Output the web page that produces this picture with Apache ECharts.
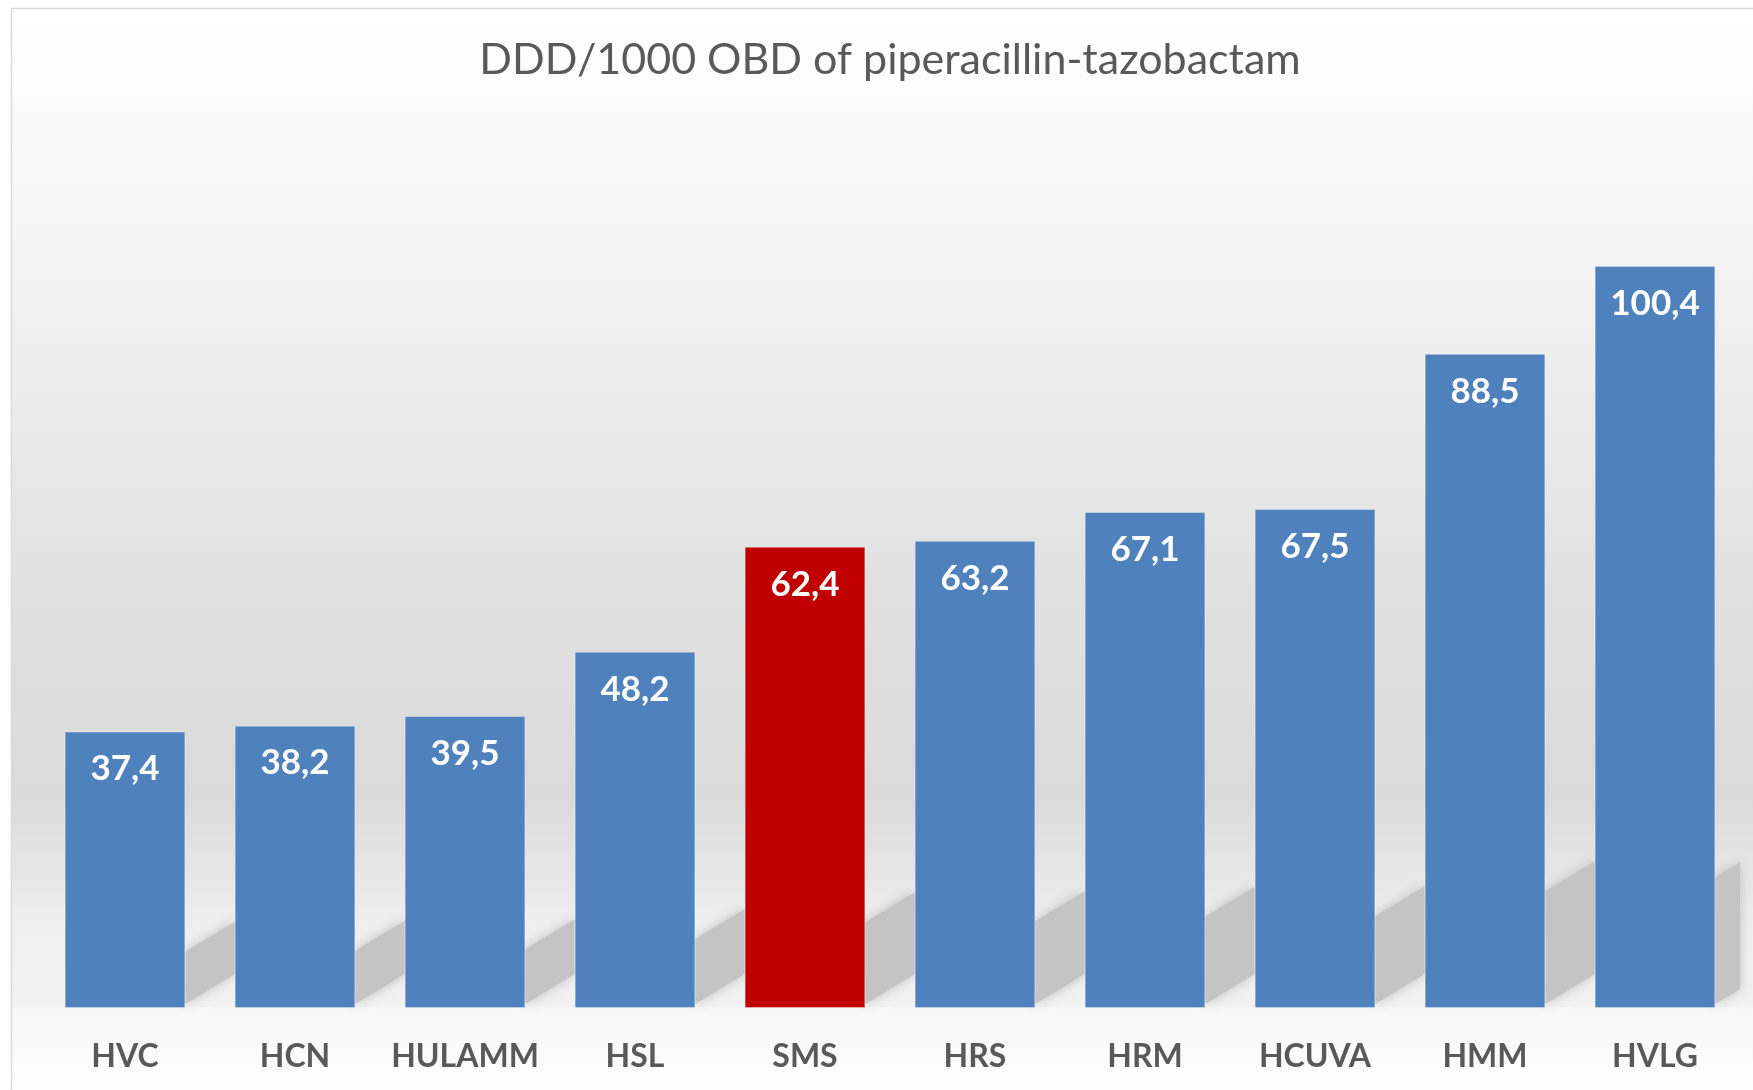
<!DOCTYPE html>
<html>
<head>
<meta charset="utf-8">
<title>DDD/1000 OBD of piperacillin-tazobactam</title>
<script src="https://cdn.jsdelivr.net/npm/echarts@6/dist/echarts.min.js"></script>
<style>
  html, body { margin: 0; padding: 0; background: #ffffff; }
  #chart { width: 1753px; height: 1090px; }
</style>
</head>
<body>
<div id="chart"></div>
<script>
// hospitals, sorted as in the original slide
var hospitals = ['HVC', 'HCN', 'HULAMM', 'HSL', 'SMS', 'HRS', 'HRM', 'HCUVA', 'HMM', 'HVLG'];
var ddd = [37.4, 38.2, 39.5, 48.2, 62.4, 63.2, 67.1, 67.5, 88.5, 100.4];
var highlighted = 'SMS';

var blue = '#4f81bd';
var red = '#c00000';

var myChart = echarts.init(document.getElementById('chart'));

var barData = [];
for (var i = 0; i < ddd.length; i++) {
  barData.push({
    value: ddd[i],
    itemStyle: { color: hospitals[i] === highlighted ? red : blue }
  });
}

var shadowData = [];
for (var j = 0; j < ddd.length; j++) {
  shadowData.push([j, ddd[j]]);
}

// soft cast shadow to the right of each bar
function renderShadow(params, api) {
  var idx = api.value(0);
  var base = api.coord([idx, 0]);
  var bandW = api.size([1, 0])[0];
  var barW = bandW * 0.71;
  var h = api.size([0, api.value(1)])[1];
  var xr = base[0] + barW / 2;
  var gap = bandW - barW;
  var yb = base[1];
  var H = h * 0.16 + 12;
  var rise = 30;
  var cs = params.coordSys;
  var xEnd = Math.min(xr + gap, cs.x + cs.width);
  var k = (xEnd - xr) / gap;
  return {
    type: 'polygon',
    shape: {
      points: [
        [xr, yb - 4],
        [xr, yb - H],
        [xEnd, yb - H - rise * k],
        [xEnd, yb - 4 - rise * k]
      ]
    },
    style: {
      fill: '#c4c4c4',
      shadowBlur: 12,
      shadowColor: 'rgba(185,185,185,0.9)'
    }
  };
}

var option = {
  backgroundColor: '#ffffff',
  animation: false,
  title: {
    text: 'DDD/1000 OBD of piperacillin-tazobactam',
    left: 885,
    top: 34,
    textAlign: 'center',
    textStyle: {
      fontFamily: 'Lato',
      fontWeight: 'normal',
      fontSize: 43,
      color: '#595959'
    }
  },
  graphic: [
    {
      type: 'rect',
      z: -10,
      silent: true,
      shape: { x: 11, y: 8, width: 1760, height: 999 },
      style: {
        fill: new echarts.graphic.LinearGradient(0, 0, 0, 1, [
          { offset: 0, color: '#ffffff' },
          { offset: 0.19, color: '#f7f7f7' },
          { offset: 0.59, color: '#e0e0e0' },
          { offset: 0.79, color: '#dadada' },
          { offset: 0.92, color: '#efefef' },
          { offset: 1, color: '#f2f2f2' }
        ])
      }
    },
    {
      type: 'rect',
      z: -10,
      silent: true,
      shape: { x: 11, y: 1007, width: 1760, height: 100 },
      style: {
        fill: new echarts.graphic.LinearGradient(0, 0, 0, 1, [
          { offset: 0, color: '#f7f7f7' },
          { offset: 1, color: '#ffffff' }
        ])
      }
    },
    {
      type: 'rect',
      z: -9,
      silent: true,
      shape: { x: 11.5, y: 8.5, width: 1760, height: 1100 },
      style: { fill: null, stroke: '#d9d9d9', lineWidth: 1.5 }
    }
  ],
  grid: {
    left: 40,
    right: 13,
    top: 121,
    bottom: 82
  },
  xAxis: {
    type: 'category',
    data: hospitals,
    axisLine: { show: false },
    axisTick: { show: false },
    axisLabel: {
      interval: 0,
      margin: 33,
      fontFamily: 'Lato',
      fontWeight: 'bold',
      fontSize: 32,
      color: '#595959'
    }
  },
  yAxis: {
    type: 'value',
    min: 0,
    max: 120,
    show: false,
    splitLine: { show: false }
  },
  series: [
    {
      name: 'shadow',
      type: 'custom',
      z: 1,
      silent: true,
      renderItem: renderShadow,
      data: shadowData
    },
    {
      name: 'DDD/1000 OBD',
      type: 'bar',
      z: 2,
      barWidth: '71%',
      data: barData,
      itemStyle: {
        borderColor: 'rgba(255,255,255,0.35)',
        borderWidth: 1
      },
      label: {
        show: true,
        position: 'insideTop',
        distance: 20,
        fontFamily: 'Lato',
        fontWeight: 'bold',
        fontSize: 35,
        lineHeight: 35,
        color: '#ffffff',
        formatter: function (p) {
          return p.value.toFixed(1).replace('.', ',');
        }
      }
    }
  ]
};

myChart.setOption(option);
</script>
</body>
</html>
